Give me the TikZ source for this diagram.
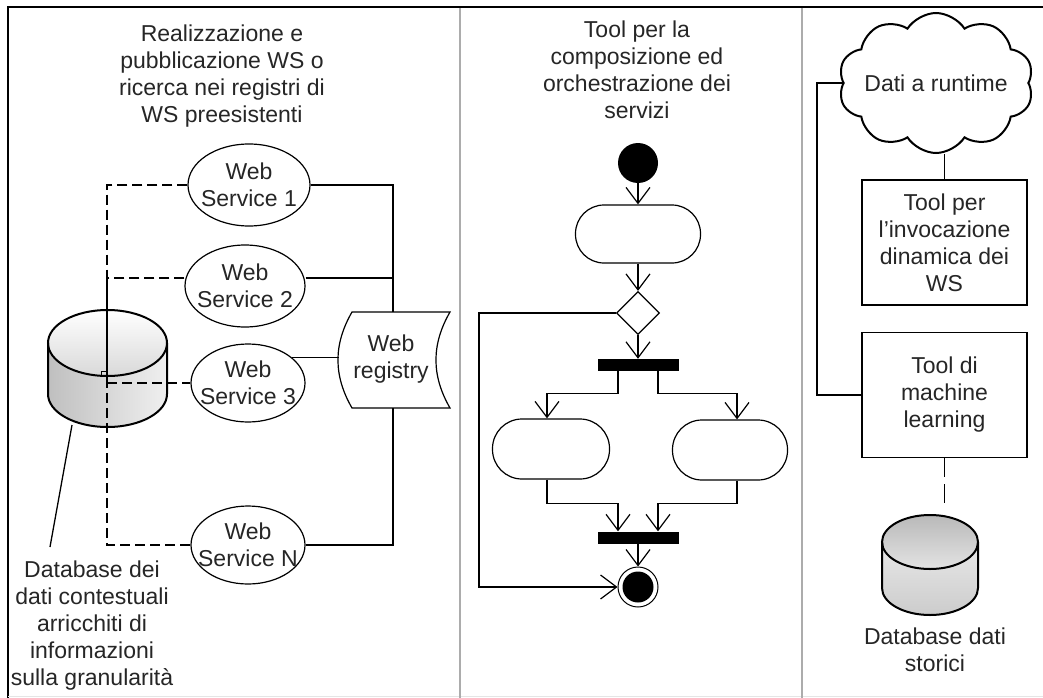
\documentclass[tikz,border=0pt]{standalone}
\usepackage{fontspec}
\setmainfont{Liberation Sans}
\usetikzlibrary{shapes.geometric,shapes.symbols,arrows.meta}
\begin{document}
\begin{tikzpicture}[x=1pt,y=-1pt,
  txt/.style={font=\fontsize{23}{27}\selectfont, text=black!85, align=center, inner sep=0pt},
  wsnode/.style={ellipse, draw, line width=1.2pt, inner sep=0pt},
  conn/.style={line width=1.3pt},
  dconn/.style={line width=1.3pt, dash pattern=on 10pt off 5pt},
  flow/.style={line width=1.2pt, -{Straight Barb[length=16pt,width=24pt]}},
  action/.style={draw, line width=1.2pt, rounded corners=28.5pt, minimum width=125pt, minimum height=58pt, inner sep=0pt},
  syncbar/.style={fill=black, minimum width=81pt, minimum height=12pt, inner sep=0pt},
  toolbox/.style={draw, line width=1.6pt, minimum width=165pt, minimum height=125pt, txt},
  holder/.style={inner sep=0pt, outer sep=0pt},
]
\useasboundingbox (0,0) rectangle (1043,698);
\fill[white] (0,0) rectangle (1043,698);

% frame and lane separators
\draw[line width=2pt] (8,698) -- (8,7) -- (1043,7);
\draw[gray!20, line width=1pt] (8,696) -- (1043,696);
\draw[gray!65, line width=2.5pt] (460,8) -- (460,698);
\draw[gray!65, line width=2.5pt] (802,8) -- (802,698);

% ---------------- lane 1: web services ----------------
\node[txt] (t1) at (222,76) {Realizzazione e\\pubblicazione WS o\\ricerca nei registri di\\WS preesistenti};

% context database (cylinder)
\node[holder, minimum width=119pt, minimum height=117pt] (db1) at (107.5,368.5) {};
\shade[top color=white, bottom color=gray!30] (107.5,343) ellipse [x radius=59.5pt, y radius=33pt];
\shade[left color=gray!50, right color=gray!12]
  (48,343) -- (48,394) arc[start angle=180, end angle=360, x radius=59.5pt, y radius=33pt]
  -- (167,343) arc[start angle=0, end angle=-180, x radius=59.5pt, y radius=33pt] -- cycle;
\draw[line width=2pt] (107.5,343) ellipse [x radius=59.5pt, y radius=33pt];
\draw[line width=2pt] (48,343) -- (48,394) arc[start angle=180, end angle=360, x radius=59.5pt, y radius=33pt] -- (167,343);

% services
\node[wsnode, minimum width=122pt, minimum height=82pt, label={[txt]center:{Web\\Service 1}}] (ws1) at (249,185) {};
\node[wsnode, minimum width=120pt, minimum height=82pt, label={[txt]center:{Web\\Service 2}}] (ws2) at (245,286) {};
\node[wsnode, minimum width=114pt, minimum height=78pt, label={[txt]center:{Web\\Service 3}}] (ws3) at (248,383) {};
\node[wsnode, minimum width=114pt, minimum height=78pt, label={[txt]center:{Web\\Service N}}] (wsN) at (248,545) {};

% web registry (stored-data outline)
\node[holder, minimum width=98pt, minimum height=96pt] (reg) at (401,360) {};
\draw[line width=1.2pt] (reg.north west) to[bend right=30] (reg.south west) -- (reg.south east)
  to[bend left=30] (reg.north east) -- cycle;
\node[txt] (regtxt) at (391,359) {Web\\registry};

% solid links to the registry
\coordinate (bus) at (393,185);
\coordinate (ws2r) at ([yshift=8pt]ws2.east);
\coordinate (ws2l) at ([yshift=8pt]ws2.west);
\coordinate (regl) at ([xshift=-13pt]reg.west);
\draw[conn] (ws1.east) -- (ws1.east -| bus) -- (bus |- reg.north);
\draw[conn] (ws2r) -- (ws2r -| bus);
\draw[conn] (ws3.30) -- (ws3.30 -| regl);
\draw[conn] (wsN.east) -- (wsN.east -| bus) -- (bus |- reg.south);

% dashed links to the database
\coordinate (dl) at (107,185);
\coordinate (dbjoint) at (107,378);
\draw[dconn] (ws1.west) -- (ws1.west -| dl) -- (ws2l -| dl);
\draw[dconn] (ws2l) -- (ws2l -| dl);
\draw[conn] (ws2l -| dl) -- (dbjoint);
\draw[dconn] (dbjoint) -- (wsN.west -| dl) -- (wsN.west);
\draw[dconn] (ws3.west -| dl) -- (ws3.west);
\draw[line width=1pt] (101,377) -- (101,371) -- (107,371);

% database caption
\coordinate (db1foot) at (72,425);
\coordinate (db1tip) at (50,547);
\draw[conn] (db1foot) -- (db1tip);
\node[txt] (dbl1) at (92,626) {Database dei\\dati contestuali\\arricchiti di\\informazioni\\sulla granularità};

% ---------------- lane 2: orchestration ----------------
\node[txt] (t2) at (637,70) {Tool per la\\composizione ed\\orchestrazione dei\\servizi};

\node[circle, fill=black, minimum size=40pt, inner sep=0pt] (start) at (638,163) {};
\node[action] (a1) at (638,234) {};
\node[diamond, draw, line width=1.2pt, minimum width=43pt, minimum height=43pt, inner sep=0pt] (dec) at (638,313) {};
\node[syncbar] (fork) at (638,365) {};
\node[action, minimum width=117pt, minimum height=60pt, rounded corners=29.5pt] (a2) at (551,449) {};
\node[action, minimum width=115pt, minimum height=60pt, rounded corners=29.5pt] (a3) at (730,450) {};
\node[syncbar] (join) at (638,537.5) {};
\node[circle, draw, line width=1pt, minimum size=40pt, inner sep=0pt,
      path picture={\fill[black] (path picture bounding box.center) circle (15.5pt);}] (end) at (638,587) {};

\draw[flow] (start) -- (a1);
\draw[flow] (a1) -- (dec);
\draw[flow] (dec) -- (fork);

\coordinate (forkL) at ([xshift=-20pt]fork.south);
\coordinate (forkR) at ([xshift=20pt]fork.south);
\coordinate (a2in) at ([xshift=-4pt]a2.north);
\coordinate (a3in) at ([xshift=7pt]a3.north);
\draw[flow] (forkL) -- ++(0,22) -| (a2in);
\draw[flow] (forkR) -- ++(0,22) -| (a3in);

\coordinate (joinL) at ([xshift=-20pt]join.north);
\coordinate (joinR) at ([xshift=20pt]join.north);
\draw[flow] ([xshift=-4pt]a2.south) -- ++(0,24) -| (joinL);
\draw[flow] ([xshift=7pt]a3.south) -- ++(0,23) -| (joinR);
\draw[flow] (join) -- (end);

\draw[flow] (dec.west) -- ++(-137,0) |- (end.west);

% ---------------- lane 3: runtime ----------------
\node[cloud, draw, line width=2pt, cloud puffs=10, cloud puff arc=115, cloud ignores aspect,
      minimum width=195pt, minimum height=140pt, inner sep=0pt,
      label={[txt]center:Dati a runtime}] (cloud) at (936,83) {};
\node[toolbox] (b1) at (944.5,242.5) {Tool per\\l'invocazione\\dinamica dei\\WS};
\node[toolbox] (b2) at (944.5,395) {Tool di\\machine\\learning};

\coordinate (rail) at (817,83);
\draw[conn] (b1.north) -- (b1.north |- cloud.south);
\draw[conn] (cloud.west) -- (cloud.west -| rail) |- (b2.west);

% historical database
\node[holder, minimum width=96pt, minimum height=100pt] (db2) at (930,565) {};
\shade[top color=gray!55, bottom color=gray!22] (930,542) ellipse [x radius=48pt, y radius=27pt];
\shade[top color=gray!18, bottom color=gray!40]
  (882,542) -- (882,588) arc[start angle=180, end angle=360, x radius=48pt, y radius=27pt]
  -- (978,542) arc[start angle=0, end angle=-180, x radius=48pt, y radius=27pt] -- cycle;
\draw[line width=2pt] (930,542) ellipse [x radius=48pt, y radius=27pt];
\draw[line width=2pt] (882,542) -- (882,588) arc[start angle=180, end angle=360, x radius=48pt, y radius=27pt] -- (978,542);

\coordinate (db2top) at (944.5,507);
\draw[line width=1.3pt, dash pattern=on 19pt off 7pt] (b2.south) -- (db2top);
\node[txt] (dbl2) at (935,650) {Database dati\\storici};
\end{tikzpicture}
\end{document}
